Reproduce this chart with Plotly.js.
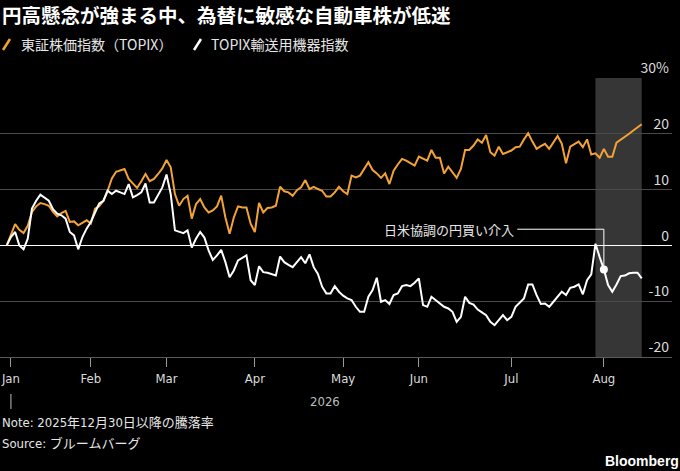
<!DOCTYPE html>
<html>
<head>
<meta charset="utf-8">
<script src="https://cdn.plot.ly/plotly-3.0.1.min.js"></script>
<style>
  html, body { margin: 0; padding: 0; background: #000; }
  #chart { width: 680px; height: 471px; }
</style>
</head>
<body>
<div id="chart"></div>
<script>
// % change since 2025-12-30, one value per trading day (index 0 = Dec 30)
const topix = [
  0, 2.0, 3.8, 2.8, 2.2, 3.5, 6.0, 7.0, 7.6, 7.4,
  7.1, 6.0, 5.2, 5.8, 6.2, 4.2, 4.3, 3.6, 4.0, 4.5,
  3.9, 6.6, 7.0, 8.0, 9.8, 12.0, 13.2, 13.5, 13.7, 11.9,
  11.1, 10.3, 11.5, 12.8, 11.5, 11.9, 12.8, 13.8, 15.3, 14.0,
  9.2, 7.1, 8.3, 8.9, 4.8, 7.4, 8.3, 6.8, 5.9, 6.25,
  7.0, 8.9, 5.0, 2.1, 5.0, 7.0, 6.8, 6.8, 3.9, 2.4,
  7.6, 5.9, 6.7, 6.8, 7.1, 10.5, 9.7, 9.5, 8.9, 9.9,
  10.4, 11.7, 10.1, 10.5, 10.1, 9.8, 8.75, 8.75, 9.5, 10.5,
  9.7, 9.2, 12.5, 12.2, 12.5, 13.7, 14.9, 13.5, 12.9, 12.1,
  12.9, 11.0, 13.4, 14.5, 15.5, 15.2, 14.8, 14.3, 15.9, 15.6,
  15.2, 17.1, 15.7, 15.7, 12.9, 14.1, 13.1, 12.1, 13.7, 17.1,
  17.1, 17.9, 19.0, 18.4, 19.8, 16.7, 16.1, 17.7, 16.4, 16.7,
  17.0, 17.6, 17.7, 19.0, 20.1, 18.6, 17.3, 17.8, 18.2, 17.3,
  18.4, 19.6, 18.2, 14.7, 17.7, 18.2, 18.6, 17.6, 19.0, 16.3,
  16.5, 15.7, 17.3, 15.9, 15.9, 18.4, 18.9, 19.4, 20.0, 20.6,
  21.2, 21.7
];
const transport = [
  0, 1.5, 2.4, 0.0, -0.7, 1.2, 6.6, 8.0, 9.1, 8.5,
  8.0, 6.5, 5.7, 5.4, 4.8, 2.4, 1.8, -0.7, 1.5, 3.0,
  4.2, 5.9, 7.5, 8.0, 9.8, 9.2, 9.8, 9.5, 9.2, 11.0,
  8.6, 9.0, 9.5, 11.1, 7.7, 7.7, 9.0, 10.4, 12.7, 9.2,
  2.7, 2.4, 2.2, 2.7, -0.4, 1.2, 2.4, 1.4, -0.9, -2.6,
  -1.8, -0.8, -3.0, -5.7, -4.5, -2.7, -2.2, -1.8, -6.25, -7.1,
  -3.75, -4.8, -4.9, -5.1, -5.4, -2.0, -3.0, -3.5, -3.9, -3.0,
  -2.1, -3.2, -1.6, -3.9, -5.1, -7.4, -8.6, -8.6, -7.3, -8.3,
  -9.0, -9.5, -9.8, -11.0, -11.9, -11.9, -9.2, -8.0, -5.8, -10.1,
  -9.8, -10.5, -8.9, -8.6, -7.3, -7.1, -7.3, -6.7, -5.9, -10.7,
  -11.0, -9.2, -9.8, -10.3, -11.0, -11.3, -11.9, -13.7, -12.8, -9.2,
  -10.3, -10.6, -11.5, -12.0, -12.5, -13.7, -14.3, -13.4, -12.5, -13.4,
  -12.8, -11.0, -10.2, -9.5, -7.0, -7.0, -8.9, -10.5, -10.4, -11.0,
  -10.1, -9.2, -8.3, -8.9, -7.6, -7.4, -7.0, -8.75, -6.25, -5.2,
  0.3, -2.1, -4.3, -7.1, -8.3, -7.0, -5.5, -5.4, -5.0, -4.9,
  -4.9, -5.9
];

// first trading day of each month (trading-day index) and labels
const monthStarts = [1, 20, 38, 59, 80, 98, 120, 142];
const monthLabels = ['Jan', 'Feb', 'Mar', 'Apr', 'May', 'Jun', 'Jul', 'Aug'];
const yTicks = [-20, -10, 0, 10, 20, 30];
const yLabels = ['-20', '-10', '0', '10', '20', '30%'];

const shadeStart = 140;       // shaded period start
const interventionDay = 142;  // 日米協調の円買い介入

const names = ['東証株価指数（TOPIX）', 'TOPIX輸送用機器指数'];
const ORANGE = '#f4a236';
const WHITE = '#ffffff';
const JP = '"Noto Sans CJK JP", "Noto Sans", sans-serif';
const NARROW = '"Liberation Sans Narrow", "DejaVu Sans Condensed", "Noto Sans CJK JP", sans-serif';

const days = topix.map((_, i) => i);
const lastDay = days[days.length - 1];

// pixel helpers for paper coords (plot area: x 0..672, y 78..357)
const W = 672, TOP = 78, BOT = 357;
const px = x => x / W;
const py = y => (BOT - y) / (BOT - TOP);

const traces = [
  {
    x: days, y: topix, name: names[0], type: 'scatter', mode: 'lines',
    line: { color: ORANGE, width: 2 }, hoverinfo: 'skip'
  },
  {
    x: days, y: transport, name: names[1], type: 'scatter', mode: 'lines',
    line: { color: WHITE, width: 2 }, hoverinfo: 'skip'
  },
  {
    x: [interventionDay], y: [transport[interventionDay]], type: 'scatter', mode: 'markers',
    marker: { color: WHITE, size: 8 }, hoverinfo: 'skip'
  }
];

const calloutY = 2.9;
const calloutX = 121.0;

const layout = {
  width: 680, height: 471,
  paper_bgcolor: '#000', plot_bgcolor: '#000',
  margin: { l: 0, r: 8, t: TOP, b: 471 - BOT },
  showlegend: false,
  font: { family: JP, color: '#e6e6e6' },
  xaxis: {
    range: [-1.6, 158.2], fixedrange: true,
    tickvals: monthStarts, ticktext: monthLabels,
    ticks: 'outside', ticklen: 9, tickcolor: '#9a9a9a', tickwidth: 1,
    showgrid: false, zeroline: false,
    showline: true, linecolor: '#5a5a5a', linewidth: 1,
    tickfont: { family: NARROW, size: 13, color: '#dcdcdc' }
  },
  yaxis: {
    range: [-20, 30], fixedrange: true, side: 'right',
    tickvals: yTicks, ticktext: yLabels,
    ticklabelposition: 'inside top', ticklabeloverflow: 'allow',
    ticks: '', showline: false,
    gridcolor: '#4a4a4a', gridwidth: 1,
    zeroline: true, zerolinecolor: '#ffffff', zerolinewidth: 1.2,
    tickfont: { family: JP, size: 14, color: '#dcdcdc' }
  },
  shapes: [
    {
      type: 'rect', xref: 'x', yref: 'paper', layer: 'below',
      x0: shadeStart, x1: lastDay, y0: 0, y1: 1,
      fillcolor: '#363636', line: { width: 0 }
    },
    {
      type: 'path', xref: 'x', yref: 'y', layer: 'above',
      path: `M ${calloutX + 0.4},${calloutY} H ${interventionDay} V ${transport[interventionDay]}`,
      line: { color: WHITE, width: 1 }
    },
    // legend slashes
    {
      type: 'line', xref: 'paper', yref: 'paper',
      x0: px(3), y0: py(50), x1: px(10), y1: py(39),
      line: { color: ORANGE, width: 2.5 }
    },
    {
      type: 'line', xref: 'paper', yref: 'paper',
      x0: px(194), y0: py(50), x1: px(201), y1: py(39),
      line: { color: WHITE, width: 2.5 }
    },
    // year marker below Jan
    {
      type: 'line', xref: 'x', yref: 'paper',
      x0: monthStarts[0], x1: monthStarts[0], y0: py(394), y1: py(409),
      line: { color: '#bdbdbd', width: 1 }
    }
  ],
  annotations: [
    {
      xref: 'paper', yref: 'paper', x: 0, y: py(14), xanchor: 'left', yanchor: 'middle',
      text: '<b>円高懸念が強まる中、為替に敏感な自動車株が低迷</b>', showarrow: false,
      font: { family: JP, size: 19.5, color: '#ffffff' }
    },
    {
      xref: 'paper', yref: 'paper', x: px(19), y: py(44), xanchor: 'left', yanchor: 'middle',
      text: names[0], showarrow: false,
      font: { family: JP, size: 14, color: '#e6e6e6' }
    },
    {
      xref: 'paper', yref: 'paper', x: px(209), y: py(44), xanchor: 'left', yanchor: 'middle',
      text: names[1], showarrow: false,
      font: { family: JP, size: 14, color: '#e6e6e6' }
    },
    {
      xref: 'x', yref: 'y', x: calloutX, y: calloutY, xanchor: 'right', yanchor: 'middle',
      text: '日米協調の円買い介入', showarrow: false,
      font: { family: JP, size: 13, color: '#e6e6e6' }
    },
    {
      xref: 'paper', yref: 'paper', x: px(325), y: py(401), xanchor: 'center', yanchor: 'middle',
      text: '2026', showarrow: false,
      font: { family: NARROW, size: 13, color: '#bdbdbd' }
    },
    {
      xref: 'paper', yref: 'paper', x: 0, y: py(422), xanchor: 'left', yanchor: 'middle',
      text: 'Note: 2025年12月30日以降の騰落率', showarrow: false,
      font: { family: NARROW, size: 13, color: '#e6e6e6' }
    },
    {
      xref: 'paper', yref: 'paper', x: 0, y: py(443), xanchor: 'left', yanchor: 'middle',
      text: 'Source: ブルームバーグ', showarrow: false,
      font: { family: NARROW, size: 13, color: '#e6e6e6' }
    },
    {
      xref: 'paper', yref: 'paper', x: px(681), y: py(461), xanchor: 'right', yanchor: 'middle',
      text: '<b>Bloomberg</b>', showarrow: false,
      font: { family: '"Liberation Sans", "Noto Sans", sans-serif', size: 14, color: '#ffffff' }
    }
  ]
};

Plotly.newPlot('chart', traces, layout, { displayModeBar: false, staticPlot: true });
</script>
</body>
</html>
